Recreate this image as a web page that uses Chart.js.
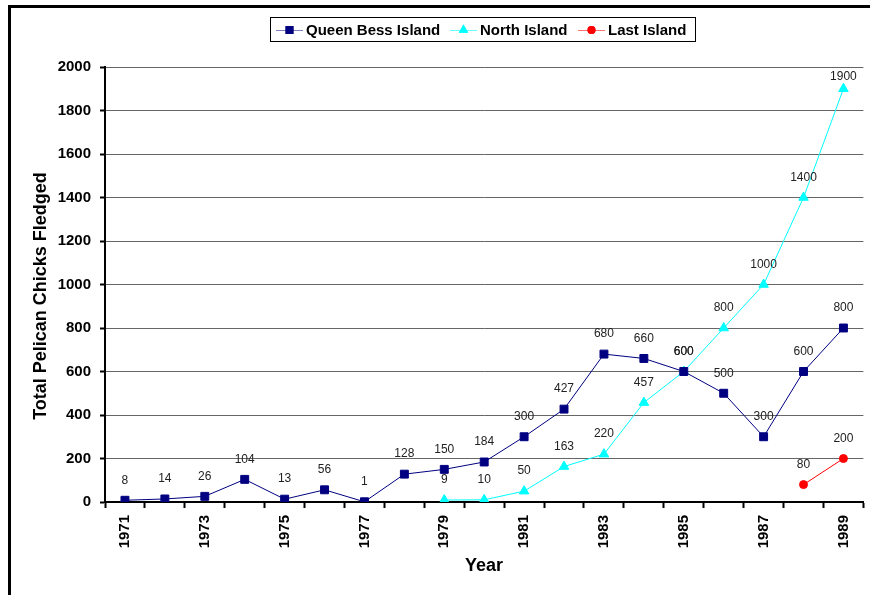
<!DOCTYPE html>
<html>
<head>
<meta charset="utf-8">
<script src="https://cdn.jsdelivr.net/npm/chart.js@4/dist/chart.umd.min.js"></script>
<style>
  html, body { margin: 0; padding: 0; background: #fff; overflow: hidden; }
  #wrap { position: relative; width: 870px; height: 595px; overflow: hidden; }
  #frame { position: absolute; left: 8px; top: 5px; right: 0; bottom: 0; border-left: 3px solid #000; border-top: 3px solid #000; }
  canvas { position: absolute; left: 0; top: 0; }
</style>
</head>
<body>
<div id="wrap">
  <div id="frame"></div>
  <canvas id="myChart" width="870" height="595"></canvas>
</div>
<script>
'use strict';

let years = ['1971', '1972', '1973', '1974', '1975', '1976', '1977', '1978', '1979', '1980',
  '1981', '1982', '1983', '1984', '1985', '1986', '1987', '1988', '1989'];

let queenBess = [8, 14, 26, 104, 13, 56, 1, 128, 150, 184, 300, 427, 680, 660, 600, 500, 300, 600, 800];
let northIsland = [null, null, null, null, null, null, null, null, 9, 10, 50, 163, 220, 457, 600, 800, 1000, 1400, 1900];
let lastIsland = [null, null, null, null, null, null, null, null, null, null, null, null, null, null, null, null, null, 80, 200];

let yTicks = [0, 200, 400, 600, 800, 1000, 1200, 1400, 1600, 1800, 2000];

let seriesNames = ['Queen Bess Island', 'North Island', 'Last Island'];
let seriesColors = ['#000080', '#00ffff', '#ff0000'];
let legendLineColors = ['rgba(0,0,128,0.5)', 'rgba(0,255,255,0.6)', 'rgba(255,0,0,0.55)'];
let seriesMarkers = ['rect', 'triangle', 'circle'];
let markerSizes = [5.6, 5.5, 4];

// value labels above every point, kept inside the plot area
let pointLabels = {
    id: 'pointLabels',
    afterDatasetsDraw(chart) {
        let ctx = chart.ctx;
        let top = chart.chartArea.top;
        ctx.save();
        ctx.font = '12px Arial, "Liberation Sans", sans-serif';
        ctx.fillStyle = '#222';
        ctx.textAlign = 'center';
        ctx.textBaseline = 'middle';
        chart.data.datasets.forEach((ds, i) => {
            let meta = chart.getDatasetMeta(i);
            meta.data.forEach((pt, j) => {
                if (ds.data[j] === null) return;
                let ly = Math.max(top + 10, pt.y - 20);
                ctx.fillText(String(ds.data[j]), pt.x, ly);
            });
        });
        ctx.restore();
    }
};

// legend box and axis titles
let extras = {
    id: 'extras',
    afterDraw(chart) {
        let ctx = chart.ctx;
        ctx.save();

        ctx.fillStyle = '#000';
        ctx.font = 'bold 18px Arial, "Liberation Sans", sans-serif';
        ctx.textAlign = 'center';
        ctx.textBaseline = 'middle';
        ctx.fillText('Year', 484, 566);
        ctx.translate(41, 296);
        ctx.rotate(-Math.PI / 2);
        ctx.fillText('Total Pelican Chicks Fledged', 0, 0);
        ctx.setTransform(1, 0, 0, 1, 0, 0);

        // legend
        let boxL = 270, boxT = 17, boxR = 695, boxB = 41;
        ctx.fillStyle = '#fff';
        ctx.fillRect(boxL, boxT, boxR - boxL, boxB - boxT);
        ctx.strokeStyle = '#000';
        ctx.lineWidth = 1;
        ctx.strokeRect(boxL + 0.5, boxT + 0.5, boxR - boxL, boxB - boxT);

        ctx.font = 'bold 15px Arial, "Liberation Sans", sans-serif';
        ctx.textAlign = 'left';
        let starts = [276, 450, 578];
        let cy = 30;
        for (let i = 0; i < seriesNames.length; i++) {
            let x0 = starts[i];
            ctx.strokeStyle = legendLineColors[i];
            ctx.lineWidth = 1;
            ctx.beginPath();
            ctx.moveTo(x0, cy + 0.5);
            ctx.lineTo(x0 + 27, cy + 0.5);
            ctx.stroke();
            ctx.fillStyle = seriesColors[i];
            Chart.helpers.drawPoint(ctx, {
                pointStyle: seriesMarkers[i], radius: markerSizes[i], rotation: 0, borderWidth: 0
            }, x0 + 13.5, cy);
            ctx.fill();
            ctx.fillStyle = '#000';
            ctx.fillText(seriesNames[i], x0 + 30, cy + 1);
        }
        ctx.restore();
    }
};

function makeSet(i, values) {
    return {
        label: seriesNames[i],
        data: values,
        borderColor: seriesColors[i],
        backgroundColor: seriesColors[i],
        borderWidth: 1,
        pointStyle: seriesMarkers[i],
        pointRadius: markerSizes[i],
        pointHoverRadius: markerSizes[i],
        pointBorderWidth: 1,
        tension: 0,
        spanGaps: false
    };
}

let ctx = document.getElementById('myChart').getContext('2d');
let myChart = new Chart(ctx, {
    type: 'line',
    data: {
        labels: years,
        datasets: [
            makeSet(0, queenBess),
            makeSet(1, northIsland),
            makeSet(2, lastIsland)
        ]
    },
    options: {
        responsive: false,
        animation: false,
        layout: { padding: { left: 0, top: 67, right: 5, bottom: 0 } },
        plugins: {
            legend: { display: false },
            tooltip: { enabled: false }
        },
        scales: {
            x: {
                offset: true,
                afterFit(scale) { scale.height = 93; },
                grid: {
                    offset: true,
                    drawOnChartArea: false,
                    drawTicks: true,
                    tickLength: 6,
                    tickWidth: 2,
                    tickColor: '#000'
                },
                border: { color: '#000', width: 2 },
                ticks: {
                    autoSkip: false,
                    minRotation: 90,
                    maxRotation: 90,
                    padding: 7,
                    color: '#000',
                    font: { family: 'Arial, "Liberation Sans", sans-serif', size: 15, weight: 'bold' },
                    callback: function (val, idx) {
                        return idx % 2 === 0 ? years[idx] : '';
                    }
                }
            },
            y: {
                min: 0,
                max: 2000,
                afterFit(scale) { scale.width = 105; },
                afterBuildTicks(scale) {
                    scale.ticks = yTicks.map(v => ({ value: v }));
                },
                grid: {
                    color: '#666',
                    lineWidth: 1,
                    drawTicks: true,
                    tickLength: 5,
                    tickColor: '#000',
                    tickWidth: 2
                },
                border: { color: '#000', width: 2 },
                ticks: {
                    padding: 9,
                    color: '#000',
                    font: { family: 'Arial, "Liberation Sans", sans-serif', size: 15, weight: 'bold' },
                    callback: function (val) {
                        return String(val);
                    }
                }
            }
        }
    },
    plugins: [pointLabels, extras]
});
</script>
</body>
</html>
